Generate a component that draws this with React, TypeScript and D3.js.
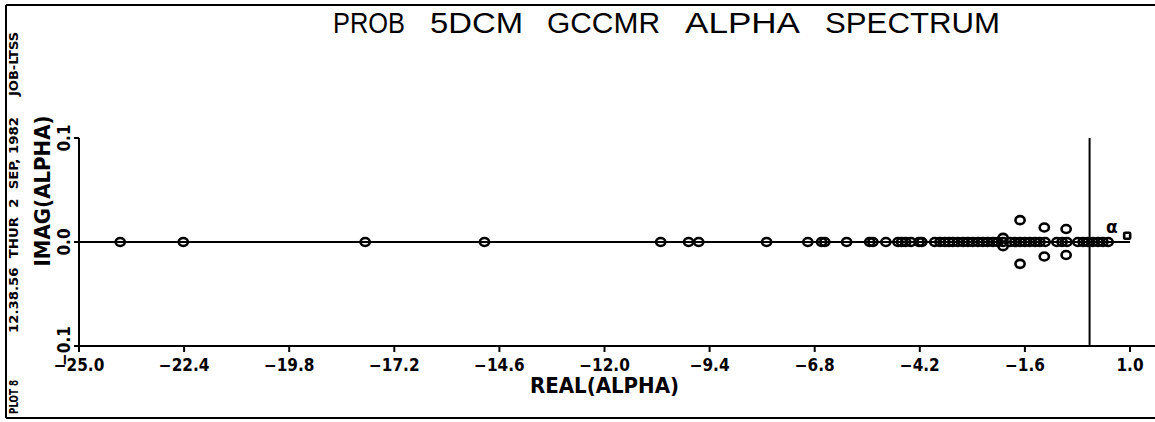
import React from "react";
import * as d3 from "d3";

// eigenvalues lying on the real axis (imag = 0)
const realRoots = [
  -23.98, -22.42, -17.92, -14.97, -10.61, -9.92, -9.67, -7.99, -6.97, -6.63, -6.55,
  -6.01, -5.44, -5.36, -5.04, -4.74, -4.65, -4.55, -4.42, -4.22, -4.15, -3.83, -3.7,
  -3.58, -3.48, -3.38, -3.26, -3.13, -3.01, -2.89, -2.76, -2.64, -2.52, -2.39, -2.27,
  -2.14, -1.97, -1.85, -1.72, -1.6, -1.48, -1.35, -1.23, -1.1, -0.81, -0.68, -0.56,
  -0.29, -0.16, -0.04, 0.08, 0.21, 0.33, 0.46,
];
// complex conjugate pairs (real part, +imag part)
const pairReal = [-2.14, -1.72, -1.12, -0.58];
const pairImag = [0.004, 0.021, 0.014, 0.0125];
// fundamental mode alpha and the marked point
const alphaMark = { re: 0.55, im: 0.013 };
const squareMark = { re: 0.93, im: 0.006 };

const xTicks = [-25.0, -22.4, -19.8, -17.2, -14.6, -12.0, -9.4, -6.8, -4.2, -1.6, 1.0];
const yTicks = [0.1, 0.0, -0.1];

const titleWords = ["PROB", "5DCM", "GCCMR", "ALPHA", "SPECTRUM"];
const stampText = ["PLOT 8", "12.38.56  THUR  2  SEP, 1982", "JOB-LTSS"];

const W = 1155;
const H = 422;
const left = 79, right = 1130, top = 138, bottom = 346;

const condensed = "'DejaVu Sans Condensed', 'Liberation Sans Narrow', 'DejaVu Sans', sans-serif";

export default function App() {
  const x = d3.scaleLinear().domain([-25, 1]).range([left, right]);
  const y = d3.scaleLinear().domain([-0.1, 0.1]).range([bottom, top]);

  const pts: { re: number; im: number }[] = [];
  realRoots.forEach((r) => pts.push({ re: r, im: 0 }));
  pairReal.forEach((r, i) => {
    pts.push({ re: r, im: pairImag[i] });
    pts.push({ re: r, im: -pairImag[i] });
  });

  const fmt = d3.format(".1f");
  const lab = (v: number) => fmt(v).replace("-", "\u2013");

  // stamp pieces: [start y, length]
  const stampPos = [
    [397, 34],
    [225, 216],
    [64, 64],
  ];
  // title words: [x, width]
  const titlePos = [
    [333, 72],
    [430, 93],
    [547, 113],
    [685, 115],
    [825, 175],
  ];

  return (
    <svg
      width={W}
      height={H}
      style={{ position: "absolute", left: 0, top: 0, background: "#fff" }}
    >
      {/* frame */}
      <g stroke="#000" strokeWidth={2} fill="none">
        <line x1={6} y1={5} x2={W} y2={5} />
        <line x1={6} y1={5} x2={6} y2={418} />
        <line x1={6} y1={418} x2={W} y2={418} />
      </g>
      {/* side stamp */}
      <g fontFamily={condensed} fontWeight="bold" fontSize={12} fill="#000">
        {stampText.map((s, i) => (
          <text
            key={s}
            transform={`translate(18,${stampPos[i][0] + stampPos[i][1] / 2}) rotate(-90)`}
            textLength={stampPos[i][1]}
            lengthAdjust="spacingAndGlyphs"
            style={{ whiteSpace: "pre" }}
          >
            {s}
          </text>
        ))}
      </g>

      {/* title */}
      <g fontFamily="'Liberation Sans', Arial, sans-serif" fontSize={30} fill="#000">
        {titleWords.map((w, i) => (
          <text
            key={w}
            x={titlePos[i][0]}
            y={33}
            textLength={titlePos[i][1]}
            lengthAdjust="spacingAndGlyphs"
          >
            {w}
          </text>
        ))}
      </g>

      {/* axes */}
      <g stroke="#000" strokeWidth={2} fill="none">
        <line x1={left} y1={top} x2={left} y2={bottom} />
        <line x1={left} y1={bottom} x2={W} y2={bottom} />
        <line x1={left} y1={y(0)} x2={right} y2={y(0)} />
        <line x1={x(0)} y1={top} x2={x(0)} y2={bottom} />
        {xTicks.map((t) => (
          <line key={t} x1={x(t)} y1={bottom} x2={x(t)} y2={bottom + 6} />
        ))}
        {yTicks.map((t) => (
          <line key={t} x1={left - 5} y1={y(t)} x2={left} y2={y(t)} />
        ))}
      </g>

      <g fontFamily={condensed} fontWeight="bold" fontSize={17} fill="#000">
        {xTicks.map((t) => (
          <text key={t} x={x(t)} y={bottom + 25} textAnchor="middle">
            {lab(t)}
          </text>
        ))}
        {yTicks.map((t) => (
          <text
            key={t}
            transform={`translate(${left - 9},${y(t)}) rotate(-90)`}
            textAnchor="middle"
          >
            {lab(t)}
          </text>
        ))}
      </g>

      <text
        x={(x(-25) + x(1)) / 2}
        y={393}
        textAnchor="middle"
        fontFamily={condensed}
        fontWeight="bold"
        fontSize={22}
      >
        REAL(ALPHA)
      </text>
      <text
        transform={`translate(50,${191}) rotate(-90)`}
        textAnchor="middle"
        fontFamily={condensed}
        fontWeight="bold"
        fontSize={22}
      >
        IMAG(ALPHA)
      </text>

      {/* eigenvalues */}
      <g stroke="#000" strokeWidth={2.6} fill="none">
        {pts.map((p, i) => (
          <ellipse key={i} cx={x(p.re)} cy={y(p.im)} rx={4.6} ry={4} />
        ))}
        <rect
          x={x(squareMark.re) - 3}
          y={y(squareMark.im) - 3}
          width={6}
          height={6}
          rx={1}
        />
      </g>
      <text
        x={x(alphaMark.re)}
        y={y(alphaMark.im) + 5}
        textAnchor="middle"
        fontFamily="'DejaVu Sans', sans-serif"
        fontWeight="bold"
        fontSize={17}
      >
        α
      </text>
    </svg>
  );
}
